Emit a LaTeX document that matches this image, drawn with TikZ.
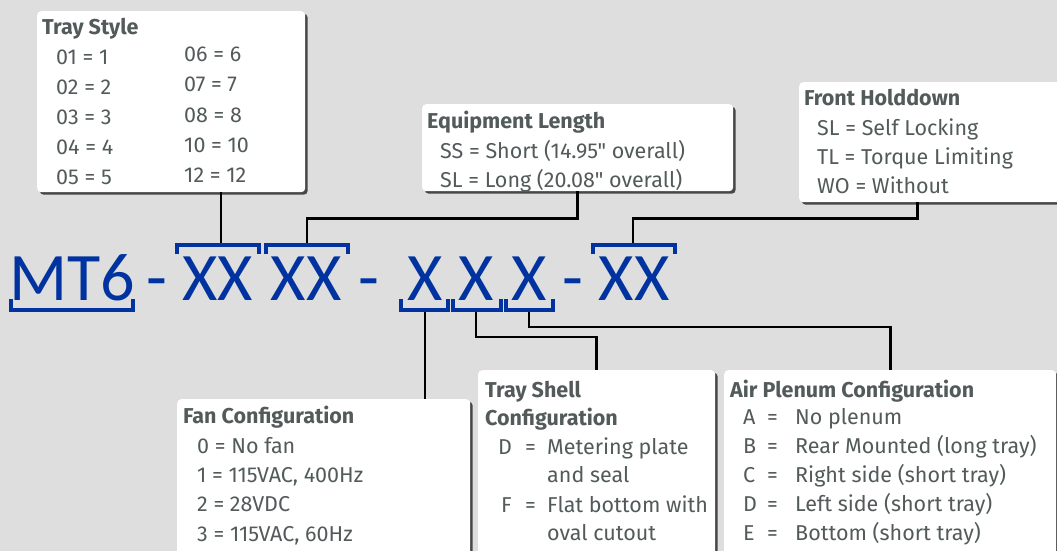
\documentclass[tikz,border=0pt]{standalone}
\usepackage{fontspec}
\setmainfont{Fira Sans}[Ligatures=TeXOff]
\newfontfamily\partfont{Carlito}
\usetikzlibrary{shadows}
\definecolor{bggray}{RGB}{222,222,222}
\definecolor{txtgray}{RGB}{82,90,90}
\definecolor{partblue}{RGB}{0,51,160}
\tikzset{
  infobox/.style={fill=white, rounded corners=4pt, anchor=north west, inner sep=0pt,
    drop shadow={shadow xshift=2.5pt, shadow yshift=-2.5pt, fill=black!72, opacity=1}},
  lbl/.style={anchor=base west, inner sep=0pt, text=txtgray, font=\fontsize{21.5}{26}\selectfont},
  ttl/.style={lbl, font=\fontsize{21.5}{26}\selectfont\bfseries},
  part/.style={anchor=base, inner sep=0pt, text=partblue, font=\partfont\fontsize{68}{70}\selectfont},
  brk/.style={draw=partblue, line width=4pt},
  wire/.style={draw=black, line width=2.7pt}
}
\begin{document}
\begin{tikzpicture}[x=1pt,y=-1pt]
    \useasboundingbox (0,0) rectangle (1057,551);
    \fill[bggray] (0,0) rectangle (1057,551);
    % boxes
    \node[infobox, minimum width=268, minimum height=181] (traystyle) at (37,11) {};
    \node[infobox, minimum width=311, minimum height=87] (eqlength) at (422,104) {};
    \node[infobox, minimum width=270, minimum height=120] (holddown) at (799,82) {};
    \node[infobox, minimum width=293, minimum height=170] (fancfg) at (177,399) {};
    \node[infobox, minimum width=237, minimum height=200] (shellcfg) at (478,370) {};
    \node[infobox, minimum width=332, minimum height=200] (plenumcfg) at (724,370) {};
    % tray style
    \node[ttl] (ts-title) at (42,35) {Tray Style};
    \foreach \c/\v [count=\i] in {01/1,02/2,03/3,04/4,05/5}
      \node[lbl] (ts-l\i) at (56,35+29.8*\i) {\c{} = \v};
    \foreach \c/\v [count=\i] in {06/6,07/7,08/8,10/10,12/12}
      \node[lbl] (ts-r\i) at (184,32+30*\i) {\c{} = \v};
    % equipment length
    \node[ttl] (el-title) at (427,128) {Equipment Length};
    \node[lbl] (el-ss) at (440,158) {SS = Short (14.95" overall)};
    \node[lbl] (el-sl) at (440,187) {SL = Long (20.08" overall)};
    % front holddown
    \node[ttl] (hd-title) at (804,105) {Front Holddown};
    \node[lbl] (hd-sl) at (817,135) {SL = Self Locking};
    \node[lbl] (hd-tl) at (817,164) {TL = Torque Limiting};
    \node[lbl] (hd-wo) at (817,193) {WO = Without};
    % fan configuration
    \node[ttl] (fc-title) at (183,423) {Fan Configuration};
    \node[lbl] (fc-0) at (197,453) {0 = No fan};
    \node[lbl] (fc-1) at (197,482) {1 = 115VAC, 400Hz};
    \node[lbl] (fc-2) at (197,511) {2 = 28VDC};
    \node[lbl] (fc-3) at (197,541) {3 = 115VAC, 60Hz};
    % tray shell configuration
    \node[ttl] (sc-title) at (485,397) {Tray Shell};
    \node[ttl] (sc-title2) at (485,425) {Configuration};
    \node[lbl] (sc-dk) at (498,454) {D};
    \node[lbl] (sc-de) at (525,454) {=};
    \node[lbl] (sc-d1) at (547,454) {Metering plate};
    \node[lbl] (sc-d2) at (547,482) {and seal};
    \node[lbl] (sc-fk) at (501,512) {F};
    \node[lbl] (sc-fe) at (525,512) {=};
    \node[lbl] (sc-f1) at (547,512) {Flat bottom with};
    \node[lbl] (sc-f2) at (547,540) {oval cutout};
    % air plenum configuration
    \node[ttl] (ap-title) at (730,397) {Air Plenum Configuration};
    \foreach \k/\d [count=\i] in {A/No plenum,B/Rear Mounted (long tray),C/Right side (short tray),D/Left side (short tray),E/Bottom (short tray)} {
      \node[lbl] (ap-k\i) at (743,396+28.8*\i) {\k};
      \node[lbl] (ap-e\i) at (767,396+28.8*\i) {=};
      \node[lbl] (ap-d\i) at (795,396+28.8*\i) {\d};
    }
    % part number
    \node[part] (mt) at (72,300) {MT6};
    \node[part] (dash1) at (156.5,300) {-};
    \node[part] (xa) at (218,300) {XX};
    \node[part] (xb) at (306,300) {XX};
    \node[part] (dash2) at (368.5,300) {-};
    \node[part] (xc) at (425,300) {X};
    \node[part] (xd) at (476.5,300) {X};
    \node[part] (xe) at (529,300) {X};
    \node[part] (dash3) at (572.5,300) {-};
    \node[part] (xf) at (634,300) {XX};
    % brackets
    \draw[brk] (11,299) -- (11,310) -- (133,310) -- (133,299);
    \draw[brk] (177,254) -- (177,244.5) -- (259,244.5) -- (259,254);
    \draw[brk] (266,254) -- (266,244.5) -- (348,244.5) -- (348,254);
    \draw[brk] (593,254) -- (593,244.5) -- (675,244.5) -- (675,254);
    \draw[brk] (401,299) -- (401,310) -- (448,310) -- (448,299);
    \draw[brk] (453,299) -- (453,310) -- (501,310) -- (501,299);
    \draw[brk] (506,299) -- (506,310) -- (553,310) -- (553,299);
    \coordinate (xa-top) at (221,243);
    \coordinate (xb-top) at (307,243);
    \coordinate (xf-top) at (633,243);
    \coordinate (xc-bot) at (425,312);
    \coordinate (xd-bot) at (476,312);
    \coordinate (xe-bot) at (529,312);
    % connectors
    \draw[wire] (traystyle.south -| xa-top) -- (xa-top);
    \draw[wire] (eqlength.south) -- ++(0,27) -| (xb-top);
    \draw[wire] ([xshift=-17pt]holddown.south) -- ++(0,16) -| (xf-top);
    \draw[wire] (xc-bot) -- (xc-bot |- fancfg.north);
    \draw[wire] (xd-bot) -- ++(0,25) -| (shellcfg.north);
    \draw[wire] (xe-bot) -- ++(0,15) -| (plenumcfg.north);
\end{tikzpicture}
\end{document}
